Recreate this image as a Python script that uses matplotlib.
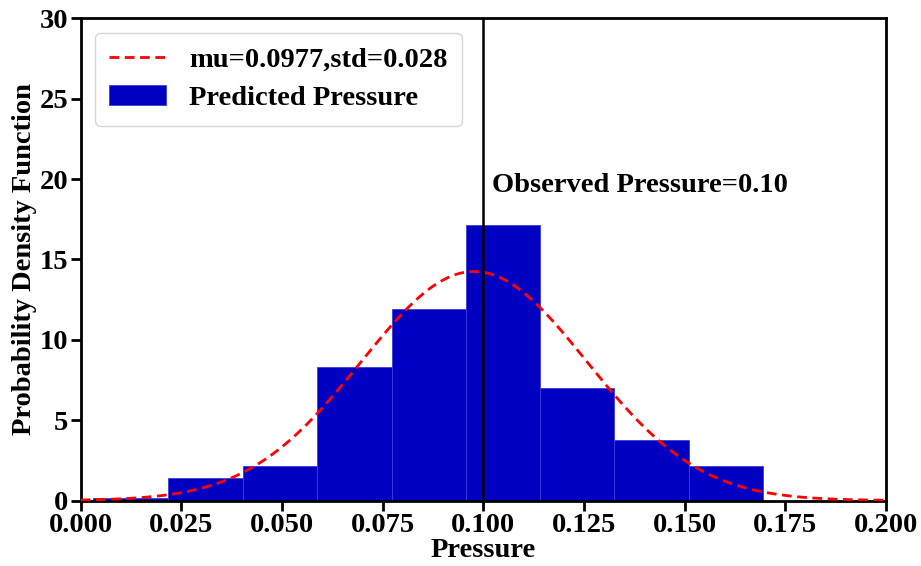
import numpy as np
import matplotlib
matplotlib.use("Agg")
import matplotlib.pyplot as plt

# Data
bin_edges = [0.0031, 0.0218, 0.0402, 0.0586, 0.0772, 0.0957, 0.1141, 0.1325, 0.1511, 0.1695]
densities = [0.16, 1.42, 2.15, 8.30, 11.90, 17.14, 7.02, 3.76, 2.15]
mu = 0.0977
std = 0.028
observed = 0.10
xticks = [0.000, 0.025, 0.050, 0.075, 0.100, 0.125, 0.150, 0.175, 0.200]
yticks = [0, 5, 10, 15, 20, 25, 30]

plt.rcParams['font.family'] = ['Liberation Serif', 'DejaVu Serif']
plt.rcParams['font.weight'] = 'bold'

FS = 20.5

fig = plt.figure(figsize=(9.21, 5.66), dpi=100)
ax = fig.add_axes([0.0876, 0.1157, 0.8744, 0.852])

edges = np.array(bin_edges)
widths = np.diff(edges)
ax.bar(edges[:-1], densities, width=widths, align='edge', color='#0000C2',
       edgecolor='#3a3ad8', linewidth=0.6, label='Predicted Pressure', zorder=2)

xs = np.linspace(0, 0.2, 400)
pdf = np.exp(-0.5 * ((xs - mu) / std) ** 2) / (std * np.sqrt(2 * np.pi))
ax.plot(xs, pdf, color='red', linestyle=(0, (3.5, 2)), linewidth=2,
        label=f'mu={mu},std={std}', zorder=3)

ax.axvline(observed, color='black', linewidth=1.8, zorder=4)
ax.text(0.1022, 19.6, f'Observed Pressure={observed:.2f}', fontsize=FS,
        fontweight='bold', va='center', ha='left')

ax.set_xlim(0, 0.2)
ax.set_ylim(0, 30)
ax.set_xticks(xticks)
ax.set_xticklabels([f'{t:.3f}' for t in xticks])
ax.set_yticks(yticks)
ax.tick_params(axis='both', direction='out', length=7, width=2, labelsize=FS, pad=2)
for lab in ax.get_xticklabels() + ax.get_yticklabels():
    lab.set_fontweight('bold')
for s in ax.spines.values():
    s.set_linewidth(2)

ax.set_xlabel('Pressure', fontsize=FS, fontweight='bold', labelpad=0)
ax.set_ylabel('Probability Density Function', fontsize=FS, fontweight='bold', labelpad=2)

leg = ax.legend(loc='upper left', prop={'weight': 'bold', 'size': FS},
                borderpad=0.5, handlelength=2.0, bbox_to_anchor=(0.0, 1.0),
                borderaxespad=0.5, labelspacing=0.45)

fig.savefig('out.png', dpi=100)
